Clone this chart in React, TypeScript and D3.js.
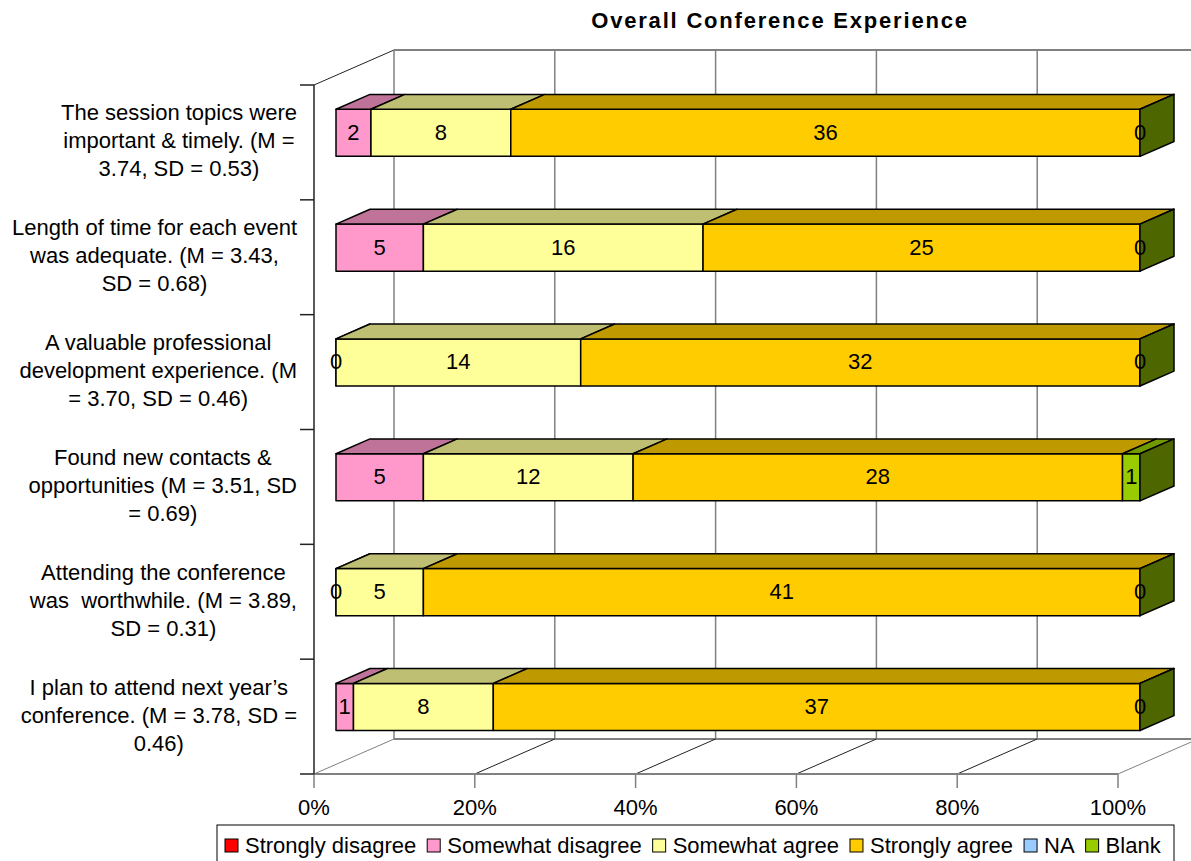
import React, { useMemo } from 'react';
import * as d3 from 'd3';

const categories = [
    "The session topics were\nimportant & timely. (M =\n3.74, SD = 0.53)",
    "Length of time for each event\nwas adequate. (M = 3.43,\nSD = 0.68)",
    "A valuable professional\ndevelopment experience. (M\n= 3.70, SD = 0.46)",
    "Found new contacts &\nopportunities (M = 3.51, SD\n= 0.69)",
    "Attending the conference\nwas  worthwhile. (M = 3.89,\nSD = 0.31)",
    "I plan to attend next year\u2019s\nconference. (M = 3.78, SD =\n0.46)",
];

const seriesNames = ['Strongly disagree', 'Somewhat disagree', 'Somewhat agree', 'Strongly agree', 'NA', 'Blank'];
const seriesColors = ['#FF0000', '#FF99CC', '#FFFF99', '#FFCC00', '#99CCFF', '#99CC00'];

const stronglyDisagree: (number | null)[] = [null, null, null, null, null, null];
const somewhatDisagree: (number | null)[] = [2, 5, 0, 5, 0, 1];
const somewhatAgree: (number | null)[] = [8, 16, 14, 12, 5, 8];
const stronglyAgree: (number | null)[] = [36, 25, 32, 28, 41, 37];
const na: (number | null)[] = [null, null, null, null, null, null];
const blank: (number | null)[] = [0, 0, 0, 1, 0, 0];

const tickValues = [0, 0.2, 0.4, 0.6, 0.8, 1];

const W = 1191;
const H = 861;
const FONT = '"Liberation Sans", Arial, sans-serif';

// oblique depth offset
const DX = 80;
const DY = 35;
const Z0 = 0.275;
const Z1 = 0.7;

const measureCtx = typeof document !== 'undefined' ? document.createElement('canvas').getContext('2d') : null;
function textWidth(s: string, size: number) {
    if (!measureCtx) return s.length * size * 0.5;
    measureCtx.font = `${size}px ${FONT}`;
    return measureCtx.measureText(s).width;
}

export default function App() {
    const allSeries = [stronglyDisagree, somewhatDisagree, somewhatAgree, stronglyAgree, na, blank];

    const x = d3.scaleLinear().domain([0, 1]).range([314, 1118]);
    const band = d3.scaleBand().domain(categories).range([85, 774]).padding(0);
    const barH = band.bandwidth() * 0.41;

    const proj = (p: number, y: number, z: number): [number, number] => [x(p) + z * DX, y - z * DY];
    const poly = (pts: [number, number][]) => 'M' + pts.map(q => q.join(',')).join('L') + 'Z';

    const rows = useMemo(() => categories.map((c, i) => {
        const vals = allSeries.map(s => s[i]);
        const total = d3.sum(vals, v => v ?? 0);
        let acc = 0;
        const segs = vals.map((v, k) => {
            const a = acc / total;
            acc += v ?? 0;
            return { key: seriesNames[k], k, v, a, b: acc / total };
        });
        return { c, segs };
    }), []);

    const darken = (col: string, f: number) => {
        const c = d3.rgb(col);
        return d3.rgb(c.r * f, c.g * f, c.b * f).formatHex();
    };

    const lineGrey = '#808080';

    // legend layout
    const legendItems: { name: string; color: string; x: number }[] = [];
    let lx = 225;
    seriesNames.forEach((n, i) => {
        legendItems.push({ name: n, color: seriesColors[i], x: lx });
        lx += 13 + 7 + textWidth(n, 22) + 11;
    });

    return (
        <div style={{ position: 'absolute', left: 0, top: 0 }}>
            <svg width={W} height={H} style={{ display: 'block', background: '#fff' }} fontFamily={FONT}>
                <text x={780} y={28} textAnchor="middle" fontSize={22} fontWeight="bold" letterSpacing={1.8}>
                    Overall Conference Experience
                </text>

                {/* walls */}
                <line x1={proj(0, 85, 0)[0]} y1={85} x2={proj(0, 85, 1)[0]} y2={proj(0, 85, 1)[1]} stroke="#222" strokeWidth={1} />
                <line x1={proj(0, 85, 1)[0]} y1={proj(0, 85, 1)[1]} x2={W} y2={proj(0, 85, 1)[1]} stroke={lineGrey} strokeWidth={2} />
                <line x1={proj(0, 774, 1)[0]} y1={proj(0, 774, 1)[1]} x2={W} y2={proj(0, 774, 1)[1]} stroke={lineGrey} strokeWidth={2} />
                {tickValues.map((t, i) => {
                    const [bx, by] = proj(t, 774, 1);
                    const [tx, ty] = proj(t, 85, 1);
                    const [fx, fy] = proj(t, 774, 0);
                    const edge = i === 0 || i === tickValues.length - 1;
                    return (
                        <g key={t}>
                            <line x1={bx} y1={ty} x2={bx} y2={by} stroke={lineGrey} strokeWidth={1.5} />
                            <line x1={fx} y1={fy} x2={bx} y2={by} stroke={edge ? lineGrey : '#222'} strokeWidth={1} />
                            <line x1={fx} y1={774} x2={fx} y2={788} stroke={lineGrey} strokeWidth={1.5} />
                            <text x={fx} y={815} textAnchor="middle" fontSize={22}>{d3.format('.0%')(t)}</text>
                        </g>
                    );
                })}
                <line x1={314} y1={774} x2={1118} y2={774} stroke={lineGrey} strokeWidth={2} />
                <line x1={314} y1={85} x2={314} y2={774} stroke="#222" strokeWidth={1.5} />
                {[...categories.map(c => band(c) as number), 774].map((yv, i) => (
                    <line key={i} x1={300} y1={yv} x2={314} y2={yv} stroke="#222" strokeWidth={1.5} />
                ))}

                {/* category labels */}
                {categories.map(c => {
                    const lines = c.split('\n');
                    const maxW = d3.max(lines, l => textWidth(l, 22)) ?? 0;
                    const cx = 297 - maxW / 2;
                    const cy = (band(c) as number) + band.bandwidth() / 2;
                    return (
                        <text key={c} x={cx} textAnchor="middle" fontSize={22} style={{ whiteSpace: 'pre' }}>
                            {lines.map((l, j) => (
                                <tspan key={j} x={cx} y={cy + (j - (lines.length - 1) / 2) * 28 + 6}>{l}</tspan>
                            ))}
                        </text>
                    );
                })}

                {/* bars */}
                {rows.map(r => {
                    const yc = (band(r.c) as number) + band.bandwidth() / 2;
                    const yt = yc - barH / 2;
                    const yb = yc + barH / 2;
                    const last = seriesColors[seriesColors.length - 1];
                    return (
                        <g key={r.c} stroke="#000" strokeWidth={1.5} strokeLinejoin="round">
                            {r.segs.filter(s => s.v !== null).map(s => (
                                <g key={s.key}>
                                    <path d={poly([proj(s.a, yt, Z0), proj(s.b, yt, Z0), proj(s.b, yb, Z0), proj(s.a, yb, Z0)])} fill={seriesColors[s.k]} />
                                    <path d={poly([proj(s.a, yt, Z0), proj(s.b, yt, Z0), proj(s.b, yt, Z1), proj(s.a, yt, Z1)])} fill={darken(seriesColors[s.k], 0.75)} />
                                </g>
                            ))}
                            <path d={poly([proj(1, yt, Z0), proj(1, yb, Z0), proj(1, yb, Z1), proj(1, yt, Z1)])} fill={darken(last, 0.5)} />
                            {r.segs.filter(s => s.v !== null).map(s => {
                                const [px, py] = proj((s.a + s.b) / 2, yc, Z0);
                                return (
                                    <text key={'l' + s.key} x={px} y={py + 7} textAnchor="middle" fontSize={22} stroke="none" fill="#000">{s.v}</text>
                                );
                            })}
                        </g>
                    );
                })}

                {/* legend */}
                <rect x={217} y={825} width={957} height={60} fill="#fff" stroke="#000" strokeWidth={1} />
                {legendItems.map(it => (
                    <g key={it.name}>
                        <rect x={it.x} y={839} width={13} height={13} fill={it.color} stroke="#000" strokeWidth={1} />
                        <text x={it.x + 20} y={853} fontSize={22}>{it.name}</text>
                    </g>
                ))}
            </svg>
        </div>
    );
}
